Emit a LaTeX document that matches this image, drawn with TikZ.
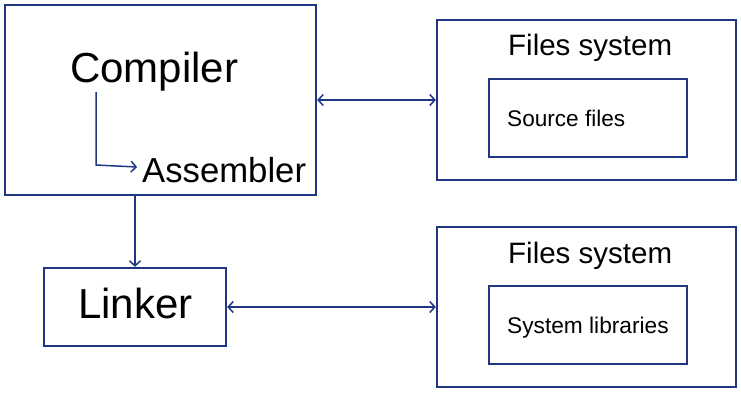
\documentclass[tikz,border=0pt]{standalone}
\usepackage{fontspec}
\setmainfont{Liberation Sans}
\usetikzlibrary{arrows.meta}
\definecolor{navy}{RGB}{32,54,130}
\tikzset{
  box/.style={draw=navy, line width=2.4pt, rectangle, inner sep=0pt},
  arr/.style={draw=navy, line width=1.5pt, {Straight Barb[length=5pt,width=11pt]}-{Straight Barb[length=5pt,width=11pt]}},
  sarr/.style={draw=navy, line width=1.5pt, -{Straight Barb[length=5pt,width=11pt]}},
  lbl/.style={inner sep=0pt, anchor=base west, text=black}
}
\begin{document}
\begin{tikzpicture}[x=1pt,y=-1pt]
\useasboundingbox (0,0) rectangle (741,405);
\node[box, minimum width=311pt, minimum height=190pt] (comp) at (160.5,100) {};
\node[box, minimum width=182pt, minimum height=78pt] (linker) at (135,307) {};
\node[box, minimum width=299pt, minimum height=160pt] (fs1) at (586.5,100) {};
\node[box, minimum width=198pt, minimum height=78pt] (src) at (588,118) {};
\node[box, minimum width=299pt, minimum height=160pt] (fs2) at (586.5,307) {};
\node[box, minimum width=198pt, minimum height=78pt] (lib) at (588,325) {};
\node[lbl, font=\fontsize{42}{48}\selectfont] (compt) at (70,82) {Compiler};
\node[lbl, font=\fontsize{34.7}{40}\selectfont] (asm) at (142,182) {Assembler};
\node[lbl, anchor=base, font=\fontsize{42}{48}\selectfont] (linkt) at (135.5,318) {Linker};
\node[lbl, font=\fontsize{29.5}{34}\selectfont] (fs1t) at (508,55) {Files system};
\node[lbl, font=\fontsize{22.6}{26}\selectfont] (srct) at (507,126) {Source files};
\node[lbl, font=\fontsize{29.5}{34}\selectfont] (fs2t) at (508,263) {Files system};
\node[lbl, font=\fontsize{22.7}{26}\selectfont] (libt) at (507,333) {System libraries};
\coordinate (cstart) at (96,92);
\coordinate (cbend) at (96,165);
\coordinate (ctip) at (137,167);
\draw[sarr] (cstart) -- (cbend) -- (ctip);
\draw[sarr] (linker.north |- comp.south) -- (linker.north);
\draw[arr] (comp.east) -- (fs1.west);
\draw[arr] (linker.east) -- (fs2.west);
\end{tikzpicture}
\end{document}
